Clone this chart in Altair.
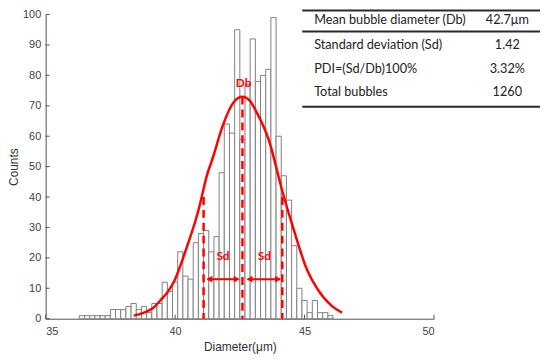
import altair as alt
import pandas as pd

# ---------------- data ----------------
bin_left = [36.3, 36.5, 36.7, 36.9, 37.1, 37.3, 37.5, 37.7, 37.9, 38.1,
            38.3, 38.5, 38.7, 38.9, 39.1, 39.3, 39.5, 39.7, 39.9, 40.1,
            40.3, 40.5, 40.7, 40.9, 41.1, 41.3, 41.5, 41.7, 41.9, 42.1,
            42.3, 42.5, 42.7, 42.9, 43.1, 43.3, 43.5, 43.7, 43.9, 44.1,
            44.3, 44.5, 44.7, 44.9, 45.1, 45.3, 45.5, 45.7, 45.9]
counts = [1, 1, 1, 1, 1, 1, 3, 3, 3, 4,
          5, 3, 4, 2, 5, 5, 12, 9, 12, 22,
          14, 13, 25, 28, 29, 22, 27, 48, 64, 61,
          95, 59, 77, 92, 78, 80, 82, 99, 60, 47,
          39, 24, 10, 6, 2, 6, 2, 2, 1]
bin_width = 0.2

curve_x = [38.4, 38.8, 39.16, 39.46, 39.73, 40.0, 40.37, 40.88, 41.26, 41.46,
           41.84, 42.29, 42.6, 42.9, 43.11, 43.63, 44.14, 44.52, 45.1, 45.5,
           46.05, 46.45]
curve_y = [1.0, 2.0, 3.6, 6.3, 9.0, 13.0, 21.5, 35.0, 48.0, 53.0,
           63.5, 71.5, 73.0, 71.5, 68.5, 58.5, 42.0, 31.0, 16.0, 9.7,
           4.2, 2.0]

dash_x = [41.1, 42.6, 44.14]
dash_top = [40, 73, 40]

arrow_start = [41.25, 42.8]
arrow_end = [42.45, 44.05]
arrow_level = [13, 13]

sd_label_x = [41.85, 43.45]
sd_label_y = [20.5, 20.5]
db_label = ["Db"]
db_label_x = [42.65]
db_label_y = [77.5]

x_ticks = [35, 40, 45, 50]
y_ticks = [0, 10, 20, 30, 40, 50, 60, 70, 80, 90, 100]

table_labels = ["Mean bubble diameter (Db)", "Standard deviation (Sd)",
                "PDI=(Sd/Db)100%", "Total bubbles"]
table_values = ["42.7μm", "1.42", "3.32%", "1260"]

# ---------------- chart ----------------
W, H = 392, 307
AX = "#505050"
FONT = "Liberation Sans"

xscale = alt.Scale(domain=[35, 50], nice=False, zero=False)
yscale = alt.Scale(domain=[0, 100], nice=False)

xaxis = alt.Axis(values=x_ticks, tickSize=0, labelPadding=7, grid=False,
                 labelOverlap=False,
                 domainColor=AX, labelColor="#404040", labelFont=FONT,
                 labelFontSize=11, title="Diameter(μm)", titleFont=FONT,
                 titleFontSize=12, titleFontWeight="normal", titleColor="#303030",
                 titleY=28, titleBaseline="middle")
yaxis = alt.Axis(values=y_ticks, tickSize=0, labelPadding=5, grid=False,
                 labelOverlap=False,
                 domainColor=AX, labelColor="#404040", labelFont=FONT,
                 labelFontSize=11, title="Counts", titleFont=FONT,
                 titleFontSize=12, titleFontWeight="normal", titleColor="#303030",
                 titleX=-25)


def X(f):
    return alt.X(f, scale=xscale, axis=xaxis)


def Y(f):
    return alt.Y(f, scale=yscale, axis=yaxis)


hist_df = pd.DataFrame({"x0": bin_left, "count": counts})
bars = alt.Chart(hist_df).transform_calculate(
    x1=f"datum.x0 + {bin_width}"
).mark_rect(fill="white", stroke="#808080", strokeWidth=1).encode(
    x=X("x0:Q"), x2="x1:Q", y=Y("count:Q"), y2=alt.datum(0))

yt = alt.Chart(pd.DataFrame({"v": y_ticks})).mark_rule(color=AX, strokeWidth=1).encode(
    y=Y("v:Q"), x=alt.value(0), x2=alt.value(4))
xt = alt.Chart(pd.DataFrame({"v": x_ticks})).mark_rule(color=AX, strokeWidth=1).encode(
    x=X("v:Q"), y=alt.value(H), y2=alt.value(H - 4))

curve = alt.Chart(pd.DataFrame({"x": curve_x, "y": curve_y})).mark_line(
    color="#ff0000", strokeWidth=2.5, interpolate="monotone").encode(
    x=X("x:Q"), y=Y("y:Q"))

dashes = alt.Chart(pd.DataFrame({"x": dash_x, "top": dash_top})).mark_rule(
    color="#ff0000", strokeWidth=2.5, strokeDash=[8, 5]).encode(
    x=X("x:Q"), y=Y("top:Q"), y2=alt.datum(0))

arr_df = pd.DataFrame({"a": arrow_start, "b": arrow_end, "y": arrow_level})
arrow_lines = alt.Chart(arr_df).mark_rule(color="#ff0000", strokeWidth=2).encode(
    x=X("a:Q"), x2="b:Q", y=Y("y:Q"))
head_l = alt.Chart(arr_df).mark_point(shape="triangle-left", filled=True, color="#ff0000",
                                      size=45, opacity=1, xOffset=2).encode(
    x=X("a:Q"), y=Y("y:Q"))
head_r = alt.Chart(arr_df).mark_point(shape="triangle-right", filled=True, color="#ff0000",
                                      size=45, opacity=1, xOffset=-2).encode(
    x=X("b:Q"), y=Y("y:Q"))

sd_txt = alt.Chart(pd.DataFrame({"x": sd_label_x, "y": sd_label_y, "t": ["Sd", "Sd"]})).mark_text(
    color="#ff0000", font="Lato", fontWeight="bold", fontSize=12).encode(
    x=X("x:Q"), y=Y("y:Q"), text="t:N")
db_txt = alt.Chart(pd.DataFrame({"x": db_label_x, "y": db_label_y, "t": db_label})).mark_text(
    color="#ff0000", font="Lato", fontWeight="bold", fontSize=12).encode(
    x=X("x:Q"), y=Y("y:Q"), text="t:N")

# table (pixel layout relative to plot origin)
one = pd.DataFrame({"a": [0]})
row_y = [5.3, 30.3, 54.7, 78.7]
line_y = [-4, 17, 93]
table_layers = []
for ly in line_y:
    table_layers.append(alt.Chart(one).mark_rule(color="#2a2a2a", strokeWidth=2).encode(
        x=alt.value(259), x2=alt.value(499), y=alt.value(ly)))
for lab, val, ry in zip(table_labels, table_values, row_y):
    table_layers.append(alt.Chart(pd.DataFrame({"t": [lab]})).mark_text(
        align="left", baseline="middle", font="Lato", fontSize=12.8, color="#222222").encode(
        text="t:N", x=alt.value(271), y=alt.value(ry)))
    table_layers.append(alt.Chart(pd.DataFrame({"t": [val]})).mark_text(
        align="center", baseline="middle", font="Lato", fontSize=12.8, color="#222222").encode(
        text="t:N", x=alt.value(466), y=alt.value(ry)))

chart = alt.layer(bars, yt, xt, curve, dashes, arrow_lines, head_l, head_r, sd_txt, db_txt,
                  *table_layers).properties(
    width=W, height=H,
    padding={"left": 38, "top": 5, "right": 109, "bottom": 34},
    autosize=alt.AutoSizeParams(type="none"),
).configure_view(stroke=None)

chart.save("out.html", embed_options={"renderer": "svg", "actions": False})
